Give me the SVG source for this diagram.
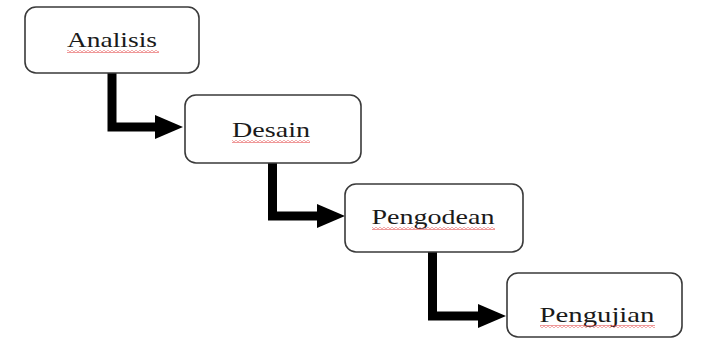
<svg xmlns="http://www.w3.org/2000/svg" width="702" height="339" viewBox="0 0 702 339">
  <style>
    .box { fill: #ffffff; stroke: #3a3a3a; stroke-width: 1.6; }
    .label { font-family: "Liberation Serif", "Times New Roman", serif; font-size: 21px; fill: #1a1a1a; text-anchor: middle; }
    .conn { fill: none; stroke: #000000; stroke-width: 9; stroke-linejoin: miter; stroke-linecap: butt; }
    .squig { fill: url(#wave); }
  </style>
  <defs>
    <marker id="head" viewBox="0 0 28 24" refX="1" refY="12" markerWidth="28" markerHeight="24" markerUnits="userSpaceOnUse" orient="auto">
      <polygon points="0,0 28,12 0,24" fill="#000000"/>
    </marker>
    <pattern id="wave" patternUnits="userSpaceOnUse" width="4" height="3">
      <path d="M0,2.4 L2,0.6 L4,2.4" fill="none" stroke="#e03030" stroke-width="0.9"/>
    </pattern>
  </defs>
  <rect width="702" height="339" fill="#ffffff"/>

  <g id="connectors">
    <path class="conn" d="M112,73 L112,127 L156,127" marker-end="url(#head)"/>
    <path class="conn" d="M272.5,163 L272.5,216 L318,216" marker-end="url(#head)"/>
    <path class="conn" d="M432.5,252 L432.5,316 L479,316" marker-end="url(#head)"/>
  </g>

  <g id="analisis">
    <rect class="box" x="25" y="7" width="174" height="66" rx="11"/>
    <text class="label" x="112" y="47" textLength="90" lengthAdjust="spacingAndGlyphs">Analisis</text>
    <rect class="squig" x="67" y="50" width="92" height="3"/>
  </g>

  <g id="desain">
    <rect class="box" x="185" y="95" width="176" height="68" rx="11"/>
    <text class="label" x="271" y="137" textLength="78" lengthAdjust="spacingAndGlyphs">Desain</text>
    <rect class="squig" x="232" y="140" width="78" height="3"/>
  </g>

  <g id="pengodean">
    <rect class="box" x="345" y="184" width="178" height="68" rx="11"/>
    <text class="label" x="433" y="224" textLength="123" lengthAdjust="spacingAndGlyphs">Pengodean</text>
    <rect class="squig" x="372" y="227" width="123" height="3"/>
  </g>

  <g id="pengujian">
    <rect class="box" x="507" y="273" width="175" height="64" rx="11"/>
    <text class="label" x="597" y="322" textLength="115" lengthAdjust="spacingAndGlyphs">Pengujian</text>
    <rect class="squig" x="540" y="325" width="115" height="3"/>
  </g>
</svg>
